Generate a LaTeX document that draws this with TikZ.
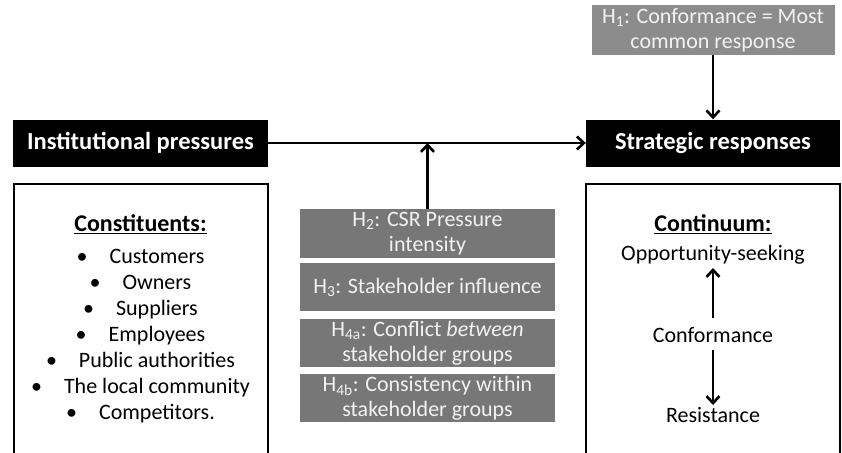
\documentclass[tikz,border=0pt]{standalone}
\usepackage{fontspec}
\setmainfont{Carlito}
\usepackage{xcolor}
\usetikzlibrary{arrows.meta,positioning}
\definecolor{hypgray}{HTML}{777777}
\definecolor{hyplight}{HTML}{8C8C8C}
\definecolor{paletext}{HTML}{F2F2F2}
\tikzset{
  >={Straight Barb[length=7pt,width=13pt]},
  every node/.style={font=\fontsize{22}{26}\selectfont,text=black},
  headbox/.style={fill=black,text=white,font=\fontsize{24.5}{28}\selectfont\bfseries,minimum width=255pt,minimum height=47pt,inner sep=0pt},
  hypbox/.style={fill=hypgray,text=paletext,align=center,minimum width=255pt,minimum height=48pt,inner sep=0pt,font=\fontsize{22}{25}\selectfont},
  frame/.style={draw=black,line width=2pt,minimum width=254pt,minimum height=290pt,anchor=north,inner sep=0pt},
  arrow/.style={->,line width=2.6pt,draw=black},
  plain/.style={align=center,inner sep=0pt},
  title/.style={plain,font=\fontsize{24}{28}\selectfont\bfseries}
}
\begin{document}
\begin{tikzpicture}[x=1pt,y=-1pt,node distance=7pt]
  \useasboundingbox (0,0) rectangle (842,452);

  % the two main blocks
  \node[headbox] (inst) at (140.5,143) {Institutional pressures};
  \node[headbox,minimum width=254pt] (strat) at (713,143) {Strategic responses};
  \node[hypbox,fill=hyplight,minimum width=243pt,minimum height=50pt] (hone) at (713,30) {H\textsubscript{1}: Conformance = Most\\common response};

  % framed lists below the blocks
  \node[frame] (consbox) at (140.5,183) {};
  \node[frame] (contbox) at (712.5,183) {};

  \node[title] (cons) at (140.5,224) {\underline{Constituents:}};
  \node[plain] (conslist) at (140.5,336) {%
    \textbullet\hspace{22pt}Customers\\
    \textbullet\hspace{22pt}Owners\\
    \textbullet\hspace{22pt}Suppliers\\
    \textbullet\hspace{22pt}Employees\\
    \textbullet\hspace{22pt}Public authorities\\
    \textbullet\hspace{22pt}The local community\\
    \textbullet\hspace{22pt}Competitors.};

  \node[title] (cont) at (713,224) {\underline{Continuum:}};
  \node[plain] (oppo) at (713,255) {Opportunity-seeking};
  \node[plain] (conf) at (713,335) {Conformance};
  \node[plain] (resi) at (713,415) {Resistance};

  % moderating hypotheses
  \node[hypbox,minimum height=49pt] (htwo) at (427.5,233.5) {H\textsubscript{2}: CSR Pressure\\intensity};
  \node[hypbox,below=5pt of htwo] (hthree) {H\textsubscript{3}: Stakeholder influence};
  \node[hypbox,below=of hthree] (hfoura) {H\textsubscript{4a}: Conflict \textit{between}\\stakeholder groups};
  \node[hypbox,below=of hfoura] (hfourb) {H\textsubscript{4b}: Consistency within\\stakeholder groups};

  % connectors
  \draw[arrow] (inst.east) -- (strat.west);
  \draw[arrow] (htwo.north) -- (htwo.north |- inst.east);
  \draw[arrow] (hone.south) -- (strat.north);
  \draw[arrow] ([yshift=17pt]conf.center) -- ([yshift=-13pt]oppo.center);
  \draw[arrow] ([yshift=-15pt]conf.center) -- ([yshift=10pt]resi.center);
\end{tikzpicture}
\end{document}
